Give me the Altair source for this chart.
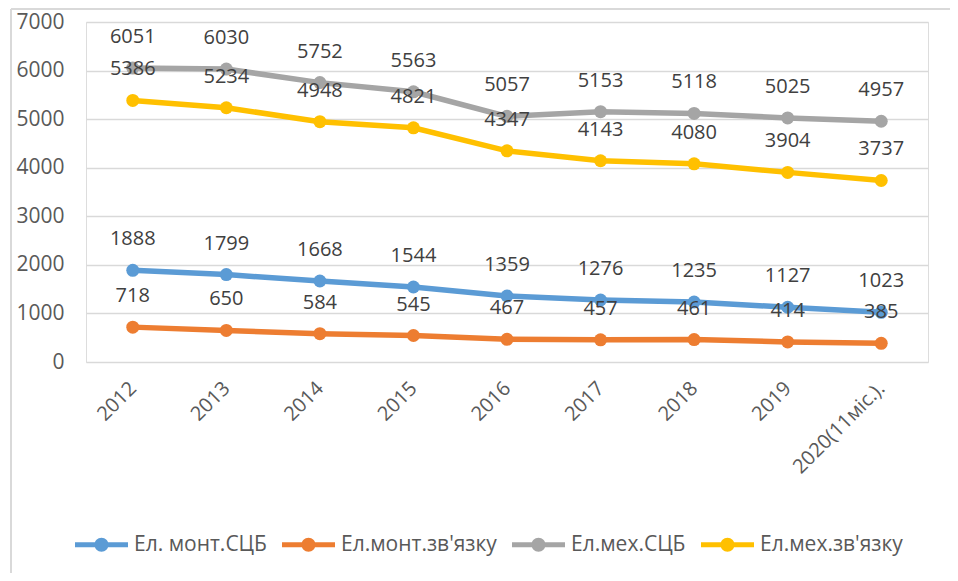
import altair as alt
import pandas as pd

years = ["2012", "2013", "2014", "2015", "2016", "2017", "2018", "2019", "2020(11міс.)."]
series_names = ["Ел. монт.СЦБ", "Ел.монт.зв'язку", "Ел.мех.СЦБ", "Ел.мех.зв'язку"]
el_mont_scb = [1888, 1799, 1668, 1544, 1359, 1276, 1235, 1127, 1023]
el_mont_zv = [718, 650, 584, 545, 467, 457, 461, 414, 385]
el_mekh_scb = [6051, 6030, 5752, 5563, 5057, 5153, 5118, 5025, 4957]
el_mekh_zv = [5386, 5234, 4948, 4821, 4347, 4143, 4080, 3904, 3737]
colors = ["#5B9BD5", "#ED7D31", "#A5A5A5", "#FFC000"]

rows = []
for i, (name, vals) in enumerate(zip(series_names, [el_mont_scb, el_mont_zv, el_mekh_scb, el_mekh_zv])):
    for y, v in zip(years, vals):
        rows.append({"year": y, "series": name, "value": v, "order": i})
df = pd.DataFrame(rows)

FONT = "Open Sans"

x_enc = alt.X("year:N", sort=years, scale=alt.Scale(type="point", padding=0.5),
              axis=alt.Axis(title=None, labelAngle=-45, labelAlign="right", labelBaseline="middle",
                            labelPadding=23, ticks=False, domain=False, grid=False,
                            labelFontSize=20, labelColor="#595959", labelFont=FONT))
y_enc = alt.Y("value:Q", scale=alt.Scale(domain=[0, 7000], nice=False),
              axis=alt.Axis(title=None, values=[0, 1000, 2000, 3000, 4000, 5000, 6000, 7000],
                            format="d", ticks=False, domain=False, grid=True, gridColor="#d9d9d9",
                            gridWidth=1.5, labelPadding=22, labelFontSize=21, labelColor="#595959",
                            labelFont=FONT))
color_scale = alt.Scale(domain=series_names, range=colors)

sym = ("M-1,-0.094L1,-0.094L1,0.094L-1,0.094Z "
       "M0.264,0A0.264,0.264 0 1,1 -0.264,0A0.264,0.264 0 1,1 0.264,0Z")

base = alt.Chart(df)

lines = base.mark_line(strokeWidth=5.5).encode(
    x=x_enc, y=y_enc,
    color=alt.Color("series:N", scale=color_scale, legend=None),
    detail="series:N",
    order=alt.Order("order:Q"),
)

points = base.mark_point(filled=True, size=169, opacity=1).encode(
    x=x_enc, y=y_enc,
    color=alt.Color("series:N", scale=color_scale,
                    legend=alt.Legend(title=None, orient="none", direction="horizontal",
                                      legendX=-11, legendY=496, symbolType=sym, symbolSize=2809,
                                      symbolStrokeWidth=0, labelFontSize=21, labelFont=FONT,
                                      labelColor="#595959", columnPadding=15, labelOffset=6,
                                      symbolOpacity=1)),
)

labels = base.mark_text(dy=-31, fontSize=20, font=FONT, color="#404040").encode(
    x=x_enc, y=y_enc, text=alt.Text("value:Q", format="d"),
)

frame_src = alt.Chart(alt.Data(values=[{}]))
frame_top = frame_src.mark_rule(stroke="#d9d9d9", strokeWidth=2).encode(
    x=alt.value(-75), x2=alt.value(1100), y=alt.value(-13), y2=alt.value(-13))
frame_left = frame_src.mark_rule(stroke="#d9d9d9", strokeWidth=2).encode(
    x=alt.value(-75), x2=alt.value(-75), y=alt.value(-13), y2=alt.value(557))
frame_bottom = frame_src.mark_rule(stroke="#d9d9d9", strokeWidth=2).encode(
    x=alt.value(-75), x2=alt.value(1100), y=alt.value(557), y2=alt.value(557))

chart = alt.layer(frame_top, frame_left, frame_bottom, lines, points, labels).resolve_legend(
    color="independent").properties(
    width=842, height=340,
    autosize=alt.AutoSizeParams(type="none"),
    padding={"left": 78, "top": 14, "right": 22, "bottom": 211},
).configure_view(stroke=None).configure(background="white")

chart.save("out.html", embed_options={"renderer": "svg", "actions": False})
